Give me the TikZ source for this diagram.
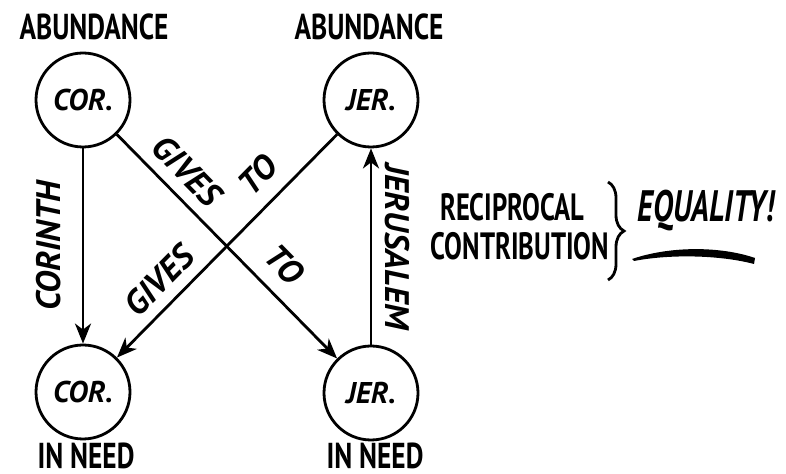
\documentclass[tikz,border=0pt]{standalone}
\usepackage{fontspec}
\newfontfamily\hand{PT Sans}[FakeStretch=0.76]
\newfontfamily\handtall{PT Sans}[FakeStretch=0.7]
\newfontfamily\handwide{PT Sans}
\usetikzlibrary{arrows.meta, decorations.pathreplacing, positioning}

\begin{document}
\begin{tikzpicture}[x=0.5pt, y=-0.5pt, line width=1.4pt,
    city/.style={draw, circle, minimum size=47pt, inner sep=0pt, font=\handwide\bfseries\itshape\fontsize{15}{16}\selectfont},
    state/.style={inner sep=1pt, font=\hand\bfseries\fontsize{18}{20}\selectfont},
    remark/.style={font=\handtall\bfseries\fontsize{19}{20}\selectfont},
    flow/.style={font=\handwide\bfseries\itshape\fontsize{17}{18}\selectfont},
    gift/.style={-{Stealth[length=10pt, width=8pt, inset=3pt]}}]
            \useasboundingbox (0, 0) rectangle (786, 474);
            \node[city] (corA) at (83, 100) {COR.};
            \node[city] (jerA) at (371, 100) {JER.};
            \node[city] (corN) at (83, 392) {COR.};
            \node[city] (jerN) at (371, 393) {JER.};
            \node[state] (abcor) at (94, 27) {ABUNDANCE};
            \node[state] (abjer) at (369, 27) {ABUNDANCE};
            \node[state] (nccor) at (86, 456) {IN NEED};
            \node[state] (ncjer) at (375, 456) {IN NEED};
            \draw[gift] (corA) -- (corN)
                node[flow, midway, rotate=90, anchor=south, yshift=7pt] {CORINTH};
            \draw[gift] (jerN) -- (jerA)
                node[flow, midway, rotate=-90, anchor=south, yshift=3pt] {JERUSALEM};
            \draw[gift] (corA) -- (jerN)
                node[flow, pos=0.24, sloped, above=2pt] {GIVES}
                node[flow, pos=0.67, sloped, above=4pt] {TO};
            \draw[gift] (jerA) -- (corN)
                node[flow, pos=0.27, sloped, above=4pt] {TO}
                node[flow, pos=0.73, sloped, above=2pt] {GIVES};
            \node[remark] (recip) at (512, 207) {RECIPROCAL};
            \node[remark] (contrib) at (520, 246) {CONTRIBUTION};
            \coordinate (bt) at (608, 182);
            \coordinate (bb) at (608, 280);
            \draw[line width=1.4pt, decorate, decoration={brace, amplitude=8pt}] (bt) -- (bb);
            \node[font=\handtall\bfseries\itshape\fontsize{22}{24}\selectfont] (equal) at (706, 211) {EQUALITY!};
            % swoosh under it
            \fill (632, 259) .. controls (670, 246) and (720, 246) .. (755, 258)
                -- (754, 264) .. controls (720, 255) and (670, 254) .. (634, 261) -- cycle;
        \end{tikzpicture}
\end{document}
